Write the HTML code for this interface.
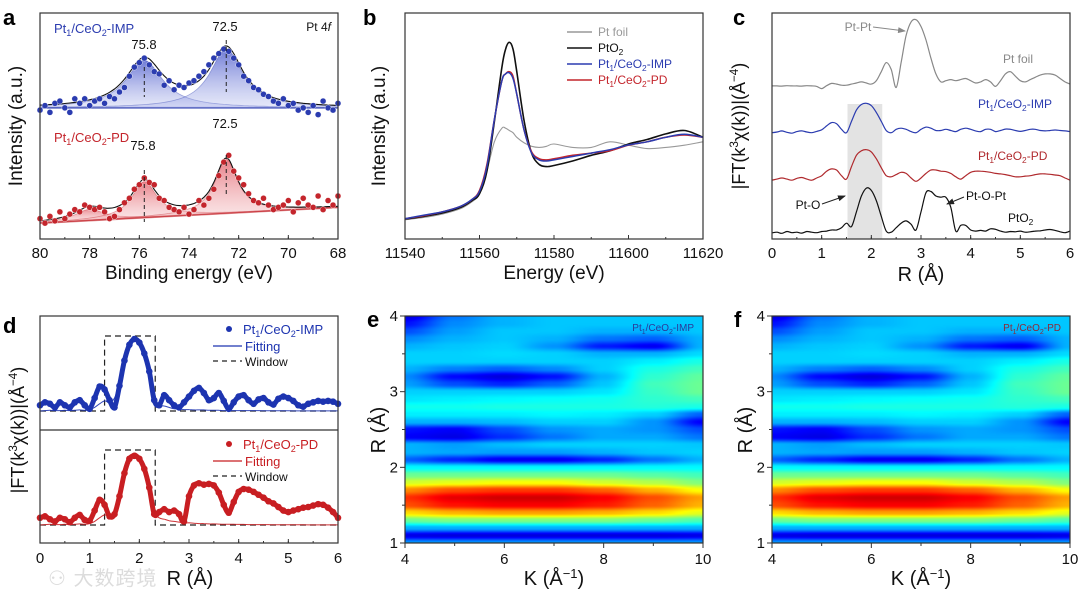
<!DOCTYPE html>
<html><head><meta charset="utf-8">
<style>
html,body{margin:0;padding:0;background:#fff;}
#wrap{position:relative;width:1080px;height:593px;overflow:hidden;font-family:"Liberation Sans","Noto Sans CJK SC",sans-serif;}
canvas{position:absolute;}
svg{position:absolute;left:0;top:0;}
</style></head>
<body>
<div id="wrap">
<canvas id="heatE" width="298" height="227" style="left:405px;top:316px"></canvas>
<canvas id="heatF" width="298" height="227" style="left:772px;top:316px"></canvas>
<svg id="fig" width="1080" height="593" viewBox="0 0 1080 593">
<defs>
<linearGradient id="gB" x1="0" y1="0" x2="0" y2="1"><stop offset="0" stop-color="#3f4fc8" stop-opacity="0.75"/><stop offset="1" stop-color="#9aa4e6" stop-opacity="0.25"/></linearGradient>
<linearGradient id="gR" x1="0" y1="0" x2="0" y2="1"><stop offset="0" stop-color="#e05560" stop-opacity="0.75"/><stop offset="1" stop-color="#f2b0b4" stop-opacity="0.25"/></linearGradient>
<marker id="arr" markerWidth="8" markerHeight="6" refX="7" refY="3" orient="auto"><path d="M0,0 L8,3 L0,6 z" fill="#222"/></marker>
<marker id="arrG" markerWidth="8" markerHeight="6" refX="7" refY="3" orient="auto"><path d="M0,0 L8,3 L0,6 z" fill="#888"/></marker>
</defs>
</svg>
<div style="position:absolute;left:48px;top:562px;font-size:20px;color:#dcdcdc;letter-spacing:1px">⚇ 大数跨境</div>
</div>
<script>
// ---------- Panel a data (XPS) ----------
const aEnergy=[80,79.8,79.6,79.4,79.2,79,78.8,78.6,78.4,78.2,78,77.8,77.6,77.4,77.2,77,76.8,76.6,76.4,76.2,76,75.8,75.6,75.4,75.2,75,74.8,74.6,74.4,74.2,74,73.8,73.6,73.4,73.2,73,72.8,72.6,72.4,72.2,72,71.8,71.6,71.4,71.2,71,70.8,70.6,70.4,70.2,70,69.8,69.6,69.4,69.2,69,68.8,68.6,68.4,68.2,68];
const aIMP=[57,59,56,60,61,58,56,62,60,62,59,61,62,60,63,62,65,67,72,76,78,80,77,74,73,68,70,66,68,67,69,70,72,74,77,80,82,84,83,80,77,72,70,67,66,64,63,61,60,62,59,60,57,58,56,59,55,61,58,57,60];
const aPD=[9,7,10,8,12,9,11,13,12,15,14,13,14,12,9,10,13,16,18,22,24,27,25,24,18,17,14,13,12,14,11,13,17,15,18,22,28,34,37,30,27,24,20,17,16,18,15,13,14,15,17,12,16,18,15,14,19,13,17,15,19];
const aIMPpeakCenters=[75.8,72.5];
const aIMPpeakHeights=[21,26];
const aIMPpeakWidths=[0.9,0.8];
const aIMPbase=[58,58];
const aPDpeakCenters=[78.0,75.8,72.5];
const aPDpeakHeights=[5,16,24];
const aPDpeakWidths=[0.7,0.6,0.55];
const aPDbase=[7,14];
const aTicks=[80,78,76,74,72,70,68];
// ---------- Panel b data (XANES) ----------
const bEnergy=[11540,11545,11550,11555,11558,11560,11562,11564,11566,11567,11568,11569,11570,11572,11574,11576,11578,11580,11585,11590,11595,11600,11605,11610,11615,11620];
const bPtO2=[8.8,10,11.5,14,17,20,30,52,76,84,87,84,74,52,38,33,32,32.5,34.5,37,39,42,44,46.5,48,45];
const bIMP=[9,10.5,12,14.5,17.5,21,32,53,70,73,73.5,71,64,48,38,35,34.5,35,36.5,38,39.5,41.6,43,45,46.3,45];
const bPD=[9,10.3,12,14.5,17.5,21.5,33,53,70,73,74,72,64,48,38.5,35.5,35,35.5,37,38,39,41.5,43,45,46,45];
const bFoil=[8.5,9.5,11,13.5,16.5,20,30,43,49,49,48,47,45,42.5,41,40.5,41,42,40.5,40.5,43,41.5,40,40.5,41.5,43];
const bTicks=[11540,11560,11580,11600,11620];
// ---------- Panel c data (FT-EXAFS) ----------
const cR=[0,0.1,0.2,0.3,0.4,0.5,0.6,0.7,0.8,0.9,1,1.1,1.2,1.3,1.4,1.5,1.6,1.7,1.8,1.9,2,2.1,2.2,2.3,2.4,2.5,2.6,2.7,2.8,2.9,3,3.1,3.2,3.3,3.4,3.5,3.6,3.7,3.8,3.9,4,4.1,4.2,4.3,4.4,4.5,4.6,4.7,4.8,4.9,5,5.1,5.2,5.3,5.4,5.5,5.6,5.7,5.8,5.9,6];
const cFoil=[67.7,67.7,67.6,67.8,67.7,67.7,67.6,67.8,67.7,67.5,66.5,67.8,68.8,68.5,68,68,68.5,69,69.5,69,68.5,70,74,78,75,67,78,90,96,97,94,88,80,73,69.5,70,70.5,70,70.5,71,70,69,69.5,70.5,69.5,67.5,70,73,74,72,70,69.5,70.5,71.5,72.5,73,73,72.5,71,69.5,68.5];
const cIMP=[47,47.3,47.8,47.2,46.8,47.5,47.8,47.3,47,47.6,48.3,50,51.5,51,48.5,47,52,57,59.5,60,59,56,52,48,47,48.5,49,48.5,47.5,47,48.5,49.5,49,48,48,48.5,48,47.5,48.5,49,48.5,47.8,47.5,48.5,48.5,47.5,48,48.6,48.5,48,47.6,48,48.5,48.5,48,47.8,48,48.2,48,47.8,47.5];
const cPD=[26,26.5,27,26.5,26,26.8,27.2,26.5,26,27,28,30,31,30.5,28,26.5,32,37,39,39.5,38.5,35.5,31.5,28,27.5,28.5,29.5,29,27,25.5,27,29,30.5,30.5,30,29.8,29,27.5,26.5,28,29.5,30,30,29.8,29.5,29,28.8,28.5,28,27.5,27.5,27.8,28,28.5,28.8,28.8,28.6,28.3,28,27,26];
const cPtO2=[2.7,3,2.5,3.3,2.8,3,2.6,3.3,3,2.8,3.3,3.5,4,4,5,7,5.5,12,19,22.5,21.5,17,10,3.5,3,5,7,8,6.5,4,12,20.5,21,19,18.5,18.5,14,3.5,6,6,4,3.5,3.8,3.5,4.5,4.3,3.5,3,3.3,3.2,3.5,3,3.2,3.5,3.6,4,4.2,3.8,3.2,2.8,3.5];
const rTicks=[0,1,2,3,4,5,6];
// ---------- Panel d data (fits) ----------
const dIMP=[8,12,10,5,12,8,5,12,15,8,3,18,34,30,15,5,35,70,92,100,95,80,55,15,8,22,15,8,5,12,20,28,32,25,15,18,25,14,3,12,20,22,15,10,16,18,12,9,17,20,18,14,8,6,10,12,14,13,14,13,10];
const dIMPfit=[0,0.5,1,0.5,0.5,1,0.5,1,1.5,1,2,5,10,14,12,18,40,72,93,100,95,78,50,18,8,7,5,3,3,2,2,1.5,1.5,1.5,1,1,1,0.5,0.5,0.5,0.5,0.5,0.5,0.5,0.5,0.3,0.3,0.3,0.3,0.3,0.3,0.2,0.2,0.2,0.2,0.2,0.2,0.2,0.2,0.2,0.2];
const dPD=[10,12,8,5,10,8,4,10,14,7,6,20,35,28,12,15,40,72,92,96,92,78,52,15,18,22,18,20,15,5,40,55,58,56,57,55,45,28,17,32,46,50,49,46,42,38,33,30,25,20,18,20,22,24,25,27,29,28,24,18,10];
const dPDfit=[0,0.5,1,0.5,0.5,1,0.5,1,1.5,1,2,5,10,14,12,18,42,74,94,100,95,78,50,18,10,8,6,5,4,3,3,2.5,2,2,1.5,1.5,1.2,1,1,1,0.8,0.8,0.6,0.6,0.5,0.5,0.5,0.4,0.4,0.3,0.3,0.3,0.3,0.3,0.2,0.2,0.2,0.2,0.2,0.2,0.2];
const dWindow=[1.3,2.32];
// ---------- Panels e/f data (wavelet transform) ----------
const wK=[4,5,6,7,8,9,10];
const wR=[1.0,1.1,1.2,1.3,1.4,1.5,1.6,1.7,1.8,1.9,2.0,2.1,2.2,2.3,2.4,2.5,2.6,2.7,2.8,2.9,3.0,3.1,3.2,3.3,3.4,3.5,3.6,3.7,3.8,3.9,4.0];
const wIMP=[
[.28,.28,.28,.28,.28,.28,.28],
[.1,.09,.09,.09,.09,.09,.1],
[.3,.3,.3,.3,.3,.3,.3],
[.48,.5,.5,.5,.5,.48,.45],
[.66,.7,.72,.72,.7,.66,.6],
[.8,.86,.88,.88,.85,.78,.7],
[.83,.9,.92,.92,.88,.8,.72],
[.74,.8,.82,.82,.78,.7,.62],
[.58,.6,.62,.62,.58,.55,.5],
[.48,.48,.48,.48,.48,.46,.44],
[.37,.37,.37,.37,.37,.37,.37],
[.22,.16,.11,.11,.16,.24,.3],
[.3,.29,.28,.28,.3,.32,.33],
[.3,.28,.31,.33,.33,.33,.32],
[.12,.1,.17,.24,.29,.29,.24],
[.14,.12,.2,.27,.29,.27,.2],
[.3,.3,.31,.33,.33,.27,.12],
[.36,.36,.36,.37,.36,.33,.22],
[.39,.39,.4,.4,.4,.41,.4],
[.35,.36,.37,.38,.39,.42,.44],
[.33,.33,.33,.33,.35,.43,.48],
[.28,.2,.16,.22,.32,.44,.48],
[.26,.13,.09,.14,.3,.42,.47],
[.3,.25,.22,.26,.33,.4,.44],
[.33,.33,.33,.33,.33,.36,.4],
[.33,.33,.34,.33,.3,.3,.34],
[.3,.32,.33,.27,.15,.11,.3],
[.26,.3,.32,.3,.24,.22,.3],
[.2,.28,.32,.32,.3,.3,.32],
[.14,.26,.3,.32,.32,.32,.32],
[.09,.24,.3,.32,.32,.32,.32]];
const wPD=wIMP;
const kTicks=[4,6,8,10];
const wRTicks=[1,2,3,4];

const NS='http://www.w3.org/2000/svg';
const svg=document.getElementById('fig');
function mk(tag,attrs,parent){const e=document.createElementNS(NS,tag);for(const k in attrs)e.setAttribute(k,attrs[k]);(parent||svg).appendChild(e);return e;}
function smooth(p){let d='M'+p[0][0].toFixed(1)+','+p[0][1].toFixed(1);for(let i=0;i<p.length-1;i++){const p0=p[i-1]||p[i],p1=p[i],p2=p[i+1],p3=p[i+2]||p2;const c1=[p1[0]+(p2[0]-p0[0])/6,p1[1]+(p2[1]-p0[1])/6],c2=[p2[0]-(p3[0]-p1[0])/6,p2[1]-(p3[1]-p1[1])/6];d+='C'+c1[0].toFixed(1)+','+c1[1].toFixed(1)+' '+c2[0].toFixed(1)+','+c2[1].toFixed(1)+' '+p2[0].toFixed(1)+','+p2[1].toFixed(1);}return d;}
function txt(x,y,s,size,fill,anchor,parent){const t=mk('text',{x:x,y:y,'font-size':size,fill:fill||'#111','text-anchor':anchor||'middle'},parent);t.innerHTML=s;return t;}
const SUB1='Pt<tspan font-size="70%" dy="3">1</tspan><tspan dy="-3">/CeO</tspan><tspan font-size="70%" dy="3">2</tspan><tspan dy="-3">';

function frame(x0,y0,x1,y1,name){const r=mk('rect',{x:x0,y:y0,width:x1-x0,height:y1-y0,fill:'none',stroke:'#333','stroke-width':1.2});}
function xticks(xs,fn,labels,y1,yl,minorStep,lo,hi,name){const g=mk('g',{});
 for(const v of labels){const x=fn(v);mk('line',{x1:x,y1:y1,x2:x,y2:y1-4,stroke:'#333'},g);const t=txt(x,yl,String(v),15,'#111','middle',g);}
 if(minorStep){for(let v=lo;v<=hi+1e-9;v+=minorStep){const x=fn(v);mk('line',{x1:x,y1:y1,x2:x,y2:y1-2,stroke:'#333'},g);}}}

// ===== Panel a =====
const xA=e=>40+(80-e)*24.833, yA=v=>239-v*2.2611;
function lor(e,cs,hs,ws){let s=0;for(let i=0;i<cs.length;i++){s+=hs[i]/(1+Math.pow((e-cs[i])/ws[i],2));}return s;}
function baseAt(b,e){return b[0]+(b[1]-b[0])*(80-e)/12;}
function drawXPS(cs,hs,ws,base,data,col,grad,tag){
 const g=mk('g',{});
 for(let i=0;i<cs.length;i++){let pts=[];for(const e of aEnergy){pts.push([xA(e),yA(baseAt(base,e)+hs[i]/(1+Math.pow((e-cs[i])/ws[i],2)))]);}
  let d=smooth(pts);d+='L'+xA(68)+','+yA(baseAt(base,68))+'L'+xA(80)+','+yA(baseAt(base,80))+'Z';
  const p=mk('path',{d:d,fill:grad,stroke:col,'stroke-opacity':0.4,'stroke-width':0.8},g);}
 const bl=mk('line',{x1:xA(80),y1:yA(base[0]),x2:xA(68),y2:yA(base[1]),stroke:col,'stroke-opacity':0.5,'stroke-width':2},g);
 const fp=aEnergy.map(e=>[xA(e),yA(baseAt(base,e)+lor(e,cs,hs,ws))]);
 const f=mk('path',{d:smooth(fp),fill:'none',stroke:'#111','stroke-width':1.1},g);
 for(let i=0;i<aEnergy.length;i++){const c=mk('circle',{cx:xA(aEnergy[i]),cy:yA(data[i]),r:3,fill:col,stroke:'#fff','stroke-width':0.4},g);}
}
drawXPS(aIMPpeakCenters,aIMPpeakHeights,aIMPpeakWidths,aIMPbase,aIMP,'#2b3cb0','url(#gB)','a-imp');
drawXPS(aPDpeakCenters,aPDpeakHeights,aPDpeakWidths,aPDbase,aPD,'#c4252c','url(#gR)','a-pd');
[[75.8,67,97],[72.5,40,92],[75.8,170,222],[72.5,155,195]].forEach(a=>{const l=mk('line',{x1:xA(a[0]),y1:a[1],x2:xA(a[0]),y2:a[2],stroke:'#222','stroke-dasharray':'4,3'});});
frame(40,13,338,239,'a-plot-frame');
xticks(0,xA,aTicks,239,258,1,68,80,'a-x-axis');
let t;
t=txt(189,279,'Binding energy (eV)',19);
t=txt(0,0,'Intensity (a.u.)',19);t.setAttribute('transform','translate(22,126) rotate(-90)');
t=txt(54,33,SUB1+'-IMP</tspan>',13,'#2b3cb0','start');
t=txt(54,142,SUB1+'-PD</tspan>',13,'#c4252c','start');
t=txt(331,31,'Pt 4<tspan font-style="italic">f</tspan>',12,'#111','end');
[[225,31,'72.5'],[144,49,'75.8'],[225,128,'72.5'],[143,150,'75.8']].forEach(a=>{const q=txt(a[0],a[1],a[2],13);});
t=txt(3,25,'a',22,'#000','start');t.setAttribute('font-weight','bold');

// ===== Panel b =====
const xB=e=>405+(e-11540)*3.725, yB=yA;
[[bFoil,'#999','b-pt-foil-line',1.1],[bPtO2,'#111','b-pto2-line',1.6],[bPD,'#c4252c','b-pd-line',1.5],[bIMP,'#2b3cb0','b-imp-line',1.5]].forEach(s=>{const p=mk('path',{d:smooth(bEnergy.map((e,i)=>[xB(e),yB(s[0][i])])),fill:'none',stroke:s[1],'stroke-width':s[3]});});
frame(405,13,703,239,'b-plot-frame');
xticks(0,xB,bTicks,239,258,10,11540,11620,'b-x-axis');
t=txt(554,279,'Energy (eV)',19);
t=txt(0,0,'Intensity (a.u.)',19);t.setAttribute('transform','translate(385,126) rotate(-90)');
[[32,'#999','Pt foil','#999'],[48,'#111','PtO<tspan font-size="70%" dy="3">2</tspan>','#111'],[64,'#2b3cb0',SUB1+'-IMP</tspan>','#2b3cb0'],[80,'#c4252c',SUB1+'-PD</tspan>','#c4252c']].forEach(a=>{const g=mk('g',{});mk('line',{x1:567,y1:a[0],x2:592,y2:a[0],stroke:a[1],'stroke-width':1.5},g);txt(598,a[0]+4,a[2],12,a[3],'start',g);});
t=txt(363,25,'b',22,'#000','start');t.setAttribute('font-weight','bold');

// ===== Panel c =====
const xC=r=>772+r*49.667, yC=yA;
const sh=mk('rect',{x:xC(1.52),y:104,width:xC(2.22)-xC(1.52),height:135,fill:'#e3e3e3'});
[[cFoil,'#888','c-pt-foil-line'],[cIMP,'#2b3cb0','c-imp-line'],[cPD,'#b02a2e','c-pd-line'],[cPtO2,'#111','c-pto2-line']].forEach(s=>{const p=mk('path',{d:smooth(cR.map((r,i)=>[xC(r),yC(s[0][i])])),fill:'none',stroke:s[1],'stroke-width':1.2});});
frame(772,13,1070,239,'c-plot-frame');
xticks(0,xC,rTicks,239,258,0.5,0,6,'c-x-axis');
t=txt(921,281,'R (Å)',20);
t=txt(0,0,'|FT(k<tspan font-size="65%" dy="-7">3</tspan><tspan dy="7">χ(k))|(Å</tspan><tspan font-size="65%" dy="-7">−4</tspan><tspan dy="7">)</tspan>',18);t.setAttribute('transform','translate(745,126) rotate(-90)');
t=txt(858,31,'Pt-Pt',12,'#888');
mk('line',{x1:873,y1:27,x2:905,y2:31,stroke:'#888','marker-end':'url(#arrG)'});
t=txt(1018,63,'Pt foil',12,'#888');
t=txt(978,108,SUB1+'-IMP</tspan>',12,'#2b3cb0','start');
t=txt(978,160,SUB1+'-PD</tspan>',12,'#b02a2e','start');
t=txt(808,209,'Pt-O',12);
mk('line',{x1:822,y1:204,x2:845,y2:196,stroke:'#222','marker-end':'url(#arr)'});
t=txt(966,200,'Pt-O-Pt',12,'#111','start');
mk('line',{x1:964,y1:197,x2:947,y2:204,stroke:'#222','marker-end':'url(#arr)'});
t=txt(1008,222,'PtO<tspan font-size="70%" dy="3">2</tspan>',12,'#111','start');
t=txt(733,25,'c',22,'#000','start');t.setAttribute('font-weight','bold');

// ===== Panel d =====
const xD=r=>40+r*49.667;
function drawD(data,fit,col,y0,tag,label,ly){
 const y=v=>y0-v*0.72;
 const g=mk('g',{});
 const w=mk('path',{d:'M'+xD(0)+','+y0+'H'+xD(dWindow[0])+'V'+(y0-75)+'H'+xD(dWindow[1])+'V'+y0+'H'+xD(6),fill:'none',stroke:'#222','stroke-dasharray':'6,4','stroke-width':1.2},g);
 const ch=mk('path',{d:smooth(cR.map((r,i)=>[xD(r),y(data[i])])),fill:'none',stroke:col,'stroke-width':5,'stroke-linecap':'round'},g);
 for(let i=0;i<cR.length;i++){const c=mk('circle',{cx:xD(cR[i]),cy:y(data[i]),r:3.3,fill:col},g);}
 const f=mk('path',{d:smooth(cR.map((r,i)=>[xD(r),y(fit[i])])),fill:'none',stroke:col,'stroke-width':1,'stroke-opacity':0.9},g);
 const lg=mk('g',{});
 mk('circle',{cx:229,cy:ly,r:3,fill:col},lg);txt(243,ly+5,label,13,col,'start',lg);
 mk('line',{x1:213,y1:ly+17,x2:242,y2:ly+17,stroke:col,'stroke-width':1.2},lg);txt(245,ly+22,'Fitting',13,col,'start',lg);
 mk('line',{x1:213,y1:ly+32,x2:242,y2:ly+32,stroke:'#222','stroke-dasharray':'5,4','stroke-width':1.2},lg);txt(245,ly+37,'Window',12,'#111','start',lg);
}
drawD(dIMP,dIMPfit,'#1d34b0',411,'d-imp',SUB1+'-IMP</tspan>',329);
drawD(dPD,dPDfit,'#c81e22',525,'d-pd',SUB1+'-PD</tspan>',444);
frame(40,316,338,543,'d-plot-frame');
const sep=mk('line',{x1:40,y1:430,x2:338,y2:430,stroke:'#333','stroke-width':1.2});
xticks(0,xD,rTicks,543,563,0.5,0,6,'d-x-axis');
t=txt(190,585,'R (Å)',20);
t=txt(0,0,'|FT(k<tspan font-size="65%" dy="-7">3</tspan><tspan dy="7">χ(k))|(Å</tspan><tspan font-size="65%" dy="-7">−4</tspan><tspan dy="7">)</tspan>',18);t.setAttribute('transform','translate(24,430) rotate(-90)');
t=txt(3,333,'d',22,'#000','start');t.setAttribute('font-weight','bold');

// ===== Panels e / f =====
function jet(v){const c=x=>Math.max(0,Math.min(1,x));return [c(Math.min(4*v-1.5,-4*v+4.5)),c(Math.min(4*v-0.5,-4*v+3.5)),c(Math.min(4*v+0.5,-4*v+2.5))].map(x=>Math.round(x*255));}
function heat(id,M){const cv=document.getElementById(id),ctx=cv.getContext('2d'),W=cv.width,H=cv.height,img=ctx.createImageData(W,H);
 const kMin=wK[0],kMax=wK[wK.length-1],rMin=wR[0],rMax=wR[wR.length-1];
 for(let py=0;py<H;py++){const R=rMax-(py+0.5)/H*(rMax-rMin);let ri=(R-rMin)/(rMax-rMin)*(wR.length-1);let r0=Math.min(Math.floor(ri),wR.length-2),fr=ri-r0;
  for(let px=0;px<W;px++){const K=kMin+(px+0.5)/W*(kMax-kMin);let ki=(K-kMin)/(kMax-kMin)*(wK.length-1);let k0=Math.min(Math.floor(ki),wK.length-2),fk=ki-k0;
   const sk=fk*fk*(3-2*fk),sr=fr*fr*(3-2*fr);
   const v=(M[r0][k0]*(1-sk)+M[r0][k0+1]*sk)*(1-sr)+(M[r0+1][k0]*(1-sk)+M[r0+1][k0+1]*sk)*sr;
   const c=jet(v),o=(py*W+px)*4;img.data[o]=c[0];img.data[o+1]=c[1];img.data[o+2]=c[2];img.data[o+3]=255;}}
 ctx.putImageData(img,0,0);}
heat('heatE',wIMP);heat('heatF',wPD);
function wtAxes(x0,tag,label,col,letter){
 const xK=k=>x0+(k-4)/6*298, yR=r=>543-(r-1)/3*227;
 frame(x0,316,x0+298,543,tag+'-plot-frame');
 const g=mk('g',{});
 for(const k of kTicks){mk('line',{x1:xK(k),y1:543,x2:xK(k),y2:548,stroke:'#333'},g);txt(xK(k),564,String(k),15,'#111','middle',g);}
 for(const k of [5,7,9]){mk('line',{x1:xK(k),y1:543,x2:xK(k),y2:546,stroke:'#333'},g);}
 for(const r of wRTicks){mk('line',{x1:x0-5,y1:yR(r),x2:x0,y2:yR(r),stroke:'#333'},g);txt(x0-7,yR(r)+5,String(r),15,'#111','end',g);}
 for(const r of [1.5,2.5,3.5]){mk('line',{x1:x0-3,y1:yR(r),x2:x0,y2:yR(r),stroke:'#333'},g);}
 let q=txt(x0+149,585,'K (Å<tspan font-size="65%" dy="-7">−1</tspan><tspan dy="7">)</tspan>',20);
 q=txt(0,0,'R (Å)',20);q.setAttribute('transform','translate('+(x0-20)+',430) rotate(-90)');
 q=txt(x0+289,331,label,10,col,'end');
 q=txt(x0-38,327,letter,22,'#000','start');q.setAttribute('font-weight','bold');
}
wtAxes(405,'e',SUB1+'-IMP</tspan>','#2a3a9a','e');
wtAxes(772,'f',SUB1+'-PD</tspan>','#8a2a3a','f');
</script>
</body></html>
